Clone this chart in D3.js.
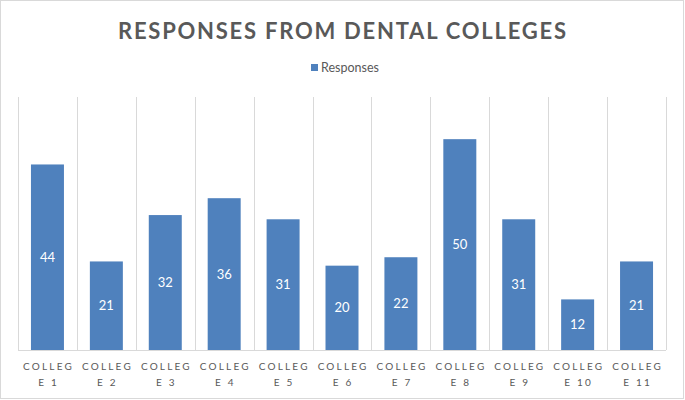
<!DOCTYPE html>
<html>
<head>
<meta charset="utf-8">
<script src="https://cdn.jsdelivr.net/npm/d3@7"></script>
<style>
  html, body { margin: 0; padding: 0; background: #fff; }
  svg { display: block; }
</style>
</head>
<body>
<svg id="chart" width="685" height="400"></svg>
<script>
const categories = ["COLLEGE 1","COLLEGE 2","COLLEGE 3","COLLEGE 4","COLLEGE 5","COLLEGE 6","COLLEGE 7","COLLEGE 8","COLLEGE 9","COLLEGE 10","COLLEGE 11"];
const labelLine1 = ["COLLEG","COLLEG","COLLEG","COLLEG","COLLEG","COLLEG","COLLEG","COLLEG","COLLEG","COLLEG","COLLEG"];
const labelLine2 = ["E 1","E 2","E 3","E 4","E 5","E 6","E 7","E 8","E 9","E 10","E 11"];
const responses = [44, 21, 32, 36, 31, 20, 22, 50, 31, 12, 21];
const seriesName = "Responses";
const titleText = "RESPONSES FROM DENTAL COLLEGES";

const svg = d3.select("#chart");
const W = 685, H = 400;
const font = "Lato, 'Open Sans', sans-serif";
const textColor = "#595959";
const barColor = "#4f81bd";
const gridColor = "#d9d9d9";

// Chart border
svg.append("rect").attr("x", 0.5).attr("y", 0.5).attr("width", W - 2).attr("height", H - 2)
  .attr("fill", "#fff").attr("stroke", "#d9d9d9").attr("stroke-width", 1);

const plot = { left: 18, right: 666, top: 97, bottom: 350 };

const x = d3.scaleBand().domain(categories).range([plot.left, plot.right])
  .paddingInner(0.44).paddingOuter(0.22);
const y = d3.scaleLinear().domain([0, 60]).range([plot.bottom, plot.top]);

// Vertical gridlines at category boundaries
const bounds = categories.map(c => x(c) - x.step() * x.paddingOuter()).concat([plot.right]);
svg.append("g").selectAll("line").data(bounds).join("line")
  .attr("x1", d => Math.round(d) + 0.5).attr("x2", d => Math.round(d) + 0.5)
  .attr("y1", plot.top).attr("y2", plot.bottom)
  .attr("stroke", gridColor).attr("stroke-width", 1);

// Bars
svg.append("g").selectAll("rect").data(responses).join("rect")
  .attr("x", (d, i) => x(categories[i]))
  .attr("width", x.bandwidth())
  .attr("y", d => y(d))
  .attr("height", d => y(0) - y(d))
  .attr("fill", barColor);

// Baseline
svg.append("line").attr("x1", plot.left).attr("x2", plot.right)
  .attr("y1", plot.bottom + 0.5).attr("y2", plot.bottom + 0.5)
  .attr("stroke", gridColor).attr("stroke-width", 1);

// Value labels
svg.append("g").selectAll("text").data(responses).join("text")
  .attr("x", (d, i) => x(categories[i]) + x.bandwidth() / 2)
  .attr("y", d => (y(d) + y(0)) / 2)
  .attr("dy", "0.35em")
  .attr("text-anchor", "middle")
  .attr("font-family", font).attr("font-size", 13)
  .attr("fill", "#fff")
  .text(d => d);

// X axis labels (wrapped, letter-spaced)
const xl = svg.append("g").selectAll("g").data(categories).join("g")
  .attr("transform", (d, i) => `translate(${x(d) + x.bandwidth() / 2},0)`);
xl.append("text").attr("y", 370).attr("text-anchor", "middle")
  .attr("font-family", font).attr("font-size", 10).attr("letter-spacing", 2.2)
  .attr("fill", textColor).attr("dx", 1.1)
  .text((d, i) => labelLine1[i]);
xl.append("text").attr("y", 386).attr("text-anchor", "middle")
  .attr("font-family", font).attr("font-size", 10).attr("letter-spacing", 2.2)
  .attr("fill", textColor).attr("dx", 1.1)
  .text((d, i) => labelLine2[i]);

// Title
svg.append("text").attr("x", 118).attr("y", 39)
  .attr("font-family", font).attr("font-size", 22).attr("font-weight", 700)
  .attr("fill", textColor)
  .attr("textLength", 448).attr("lengthAdjust", "spacing")
  .text(titleText);

// Legend
svg.append("rect").attr("x", 311).attr("y", 64).attr("width", 7).attr("height", 7).attr("fill", barColor);
svg.append("text").attr("x", 321).attr("y", 72)
  .attr("font-family", font).attr("font-size", 12.5).attr("fill", textColor)
  .text(seriesName);
</script>
</body>
</html>
